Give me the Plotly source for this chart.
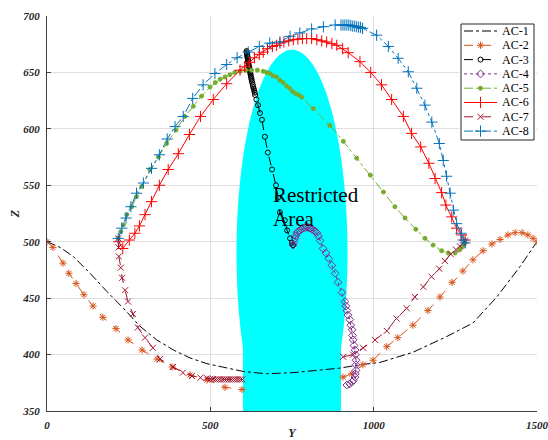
import plotly.graph_objects as go

# ---------------- data ----------------
AC1_Y = [0, 40, 80, 132, 183, 234, 285, 336, 387, 438, 489, 550, 601, 672, 754, 826, 897, 958, 1019, 1120, 1224, 1304, 1377, 1448, 1500]
AC1_Z = [500, 495, 487, 472, 456, 441, 425, 413, 404, 397, 392, 388, 385, 383, 384, 386, 388, 391, 393, 402, 416, 428, 451, 478, 500]

AC2_Y = [0, 18, 49, 67, 89, 113, 141, 171, 211, 248, 291, 337, 383, 438, 490, 545, 597, None,
         906, 933, 967, 998, 1040, 1074, 1120, 1166, 1203, 1240, 1273, 1304, 1335, 1362, 1387, 1411, 1433, 1454, 1472, 1488, 1500]
AC2_Z = [500, 495, 481, 472, 463, 453, 443, 433, 423, 413, 404, 396, 389, 382, 377.5, 371, 369, None,
         380, 383, 391, 395, 407, 415, 426, 439, 451, 464, 474, 484, 492, 498, 502, 506, 508, 508, 506, 503, 500]

AC3_Y = [611, 611.5, 612, 612.5, 613, 613.5, 614, 614.5, 615, 615.5, 616, 617, 618, 619, 620, 621, 622, 623, 624, 625, 626, 627, 628, 630, 631, 633, 634, 636, 637,
         641, 646, 652, 658, 667, 676, 689, 701, 707, 713, 728, 735, 744, 750, 753]
AC3_Z = [669, 668, 667, 666, 665, 664, 663, 662, 661, 660, 659, 657.5, 656, 654.5, 653, 651.5, 650, 648.5, 647, 645.5, 644, 642.5, 641, 639, 637, 635.5, 634, 632, 630,
         626, 621, 614, 608, 593, 579, 564, 550, 539, 526, 519, 510, 503, 499, 497]

AC4_Y = [753, 756, 759, 762, 765, 769, 774, 779, 784, 790, 796, 800, 805, 811, 817, 822, 826, 831, 836, 845, 854, 863, 872, 882, 891, 903, 912, 915, 918, 921, 927, 930, 934, 935, 937, 940, 943, 944, 946, 946, 946, 944, 943, 938, 934, 927, 918]
AC4_Z = [497, 500, 503, 505.5, 508, 509, 510, 511, 512, 512.5, 513, 512.5, 512, 511, 510, 509, 508, 505, 501, 494, 490, 485, 479, 472, 464, 455, 447, 443, 439, 435, 431, 426, 422, 417, 413, 408, 404, 400, 395, 391, 386, 383, 380, 377, 376, 374, 373]

AC5_Y = [218, 226, 234, 244, 259, 274, 290, 315, 341, 366, 395, 422, 448, 473, 499, 515, 530, 545, 560, 575, 591, 608, 626, 644, 662, 672, 682, 692, 703, 713, 723, 733, 743, 752, 762, 771, 780,
         815, 866, 907, 948, 990, 1030, 1065, 1096, 1129, 1157, 1182, 1208, 1228, 1249, 1264, 1274, 1280]
AC5_Z = [503, 509, 515, 524, 531, 540, 549, 564, 575, 587, 599, 611, 620, 629, 637, 641, 644, 646, 648, 650, 651, 652, 652, 652, 651, 650, 649, 647, 646, 643, 641, 638, 636, 633, 631, 630, 628,
         618, 603, 589, 574, 559, 544, 531, 521, 511, 503, 497, 492, 490, 490, 493, 496, 499]

AC6_Y = [220, 232, 252, 269, 283, 300, 320, 344, 371, 402, 436, 470, 509, 550, 591, 605, 620, 635, 650, 662, 675, 690, 703, 713, 725, 740, 754, 768, 782, 795, 810, 826, 841, 856, 872, 887, 905, 922,
         958, 991, 1024, 1055, 1091, 1116, 1144, 1169, 1188, 1208, 1221, 1239, 1254, 1269, 1280]
AC6_Z = [500, 494, 501.5, 507.5, 514, 524, 535.5, 550, 564, 578, 595, 611, 626, 640, 652, 655, 659, 663, 666, 668, 671, 673, 674, 676, 677, 678, 679, 679.5, 680, 680, 680, 679, 678, 677, 675.5, 674, 671, 667.5,
         659.5, 650, 639, 626, 611, 596, 584, 569.5, 556, 543.5, 532.5, 522, 512, 506, 501.5]

AC7_Y = [218, 219, 220, 226, 230, 239, 248, 263, 278, 300, 324, 346, 386, 416, 444, 470, 490, 500, 508, 515, 522, 529, 536, 543, 550, 557, 564, 571, 578, 585, 592, 598, None,
         907, 937, 968, 1004, 1040, 1070, 1101, 1126, 1152, 1177, 1201, 1218, 1236, 1252, 1264, 1274, 1280]
AC7_Z = [503, 495, 487, 477, 468, 457, 447, 436, 424, 415, 406, 396, 389, 384, 381, 379.5, 379, 378.5, 378.3, 378, 378, 378, 378, 378, 378, 378, 378, 378, 378, 378, 378, 378, None,
         398, 400, 406, 413, 421, 432, 441, 451, 460, 469, 476, 483, 489, 493, 496, 499, 501]

AC8_Y = [218, 229, 242, 257, 274, 295, 320, 344, 368, 392, 417, 446, 478, 514, 550, 582, 616, 650, 682, 713, 744, 774, 810, 846, 882, 900, 906, 912, 918, 924, 930, 936, 942, 948, 954, 960, 966,
         1009, 1045, 1075, 1106, 1132, 1157, 1178, 1201, 1213, 1223, 1234, 1244, 1254, 1267, 1274, 1280]
AC8_Z = [503, 512, 521, 531, 543, 552, 565, 577, 591, 602, 611, 627, 639, 649, 657, 663, 668, 673, 676, 677, 682, 685, 688.5, 690.5, 692, 692, 692, 692, 692, 692, 691.5, 691, 691, 690.5, 690, 690, 689,
         683, 673, 662.5, 650.6, 636, 621, 606, 587, 572, 558, 543, 528, 516, 507.5, 501.5, 499]

SERIES_NAMES = ["AC-1", "AC-2", "AC-3", "AC-4", "AC-5", "AC-6", "AC-7", "AC-8"]

# restricted area: ellipse cap + rectangular base
RA_CENTER_Y, RA_CENTER_Z = 750, 490
RA_SEMI_Y, RA_SEMI_Z = 170, 180
RA_BASE_Y0, RA_BASE_Y1 = 600, 900
RA_LABEL = ["Restricted", "Area"]
RA_LABEL_Y = 687
RA_LABEL_Z = [541, 520]

X_TICKS = [0, 500, 1000, 1500]
Z_TICKS = [350, 400, 450, 500, 550, 600, 650, 700]

SERIF = "Liberation Serif"

# ---------------- figure ----------------
W, H = 548, 440
ML, MR, MT, MB = 47, 11, 16, 29

fig = go.Figure()

styles = [
    (AC1_Y, AC1_Z, "#000000", "dashdot", None, 0),
    (AC2_Y, AC2_Z, "#D95319", "dash", "asterisk-open", 6),
    (AC3_Y, AC3_Z, "#000000", "dash", "circle-open", 5),
    (AC4_Y, AC4_Z, "#7E2F8E", "dot", "diamond-open", 6),
    (AC5_Y, AC5_Z, "#77AC30", "dashdot", "circle", 4),
    (AC6_Y, AC6_Z, "#FF0000", "solid", "cross-thin-open", 8),
    (AC7_Y, AC7_Z, "#A2142F", "dash", "x-thin-open", 6),
    (AC8_Y, AC8_Z, "#0072BD", "dashdot", "cross-thin-open", 8),
]

for name, (ys, zs, color, dash, sym, size) in zip(SERIES_NAMES, styles):
    mode = "lines" if sym is None else "lines+markers"
    marker = None
    if sym is not None:
        marker = dict(symbol=sym, size=size, color=color, line=dict(color=color, width=1))
    fig.add_trace(go.Scatter(
        x=ys, y=zs, name=name, mode=mode, showlegend=False,
        line=dict(color=color, width=1, dash=dash),
        marker=marker, connectgaps=False,
    ))

# restricted area shapes (between grid and traces)
fig.add_shape(type="circle", xref="x", yref="y",
              x0=RA_CENTER_Y - RA_SEMI_Y, x1=RA_CENTER_Y + RA_SEMI_Y,
              y0=RA_CENTER_Z - RA_SEMI_Z, y1=RA_CENTER_Z + RA_SEMI_Z,
              fillcolor="#00FFFF", line=dict(width=0), layer="between")
fig.add_shape(type="rect", xref="x", yref="y",
              x0=RA_BASE_Y0, x1=RA_BASE_Y1, y0=Z_TICKS[0] - 20, y1=RA_CENTER_Z,
              fillcolor="#00FFFF", line=dict(width=0), layer="between")

for txt, zz in zip(RA_LABEL, RA_LABEL_Z):
    fig.add_annotation(x=RA_LABEL_Y, y=zz, text=txt, showarrow=False,
                       xanchor="left", yanchor="middle",
                       font=dict(family=SERIF, size=21, color="#000000"))

# ---------------- compact legend (inset axes in page-pixel units) ----------------
LEG_L, LEG_R, LEG_T, LEG_B = 461, 534, 24, 140   # box in page pixels
LEG_ROW0, LEG_ROW_STEP = 31, 14.3
LEG_LINE_X0, LEG_LINE_X1, LEG_TEXT_X = 464, 497, 500
PAD = 2
pw, ph = W - ML - MR, H - MT - MB
fig.update_layout(
    xaxis2=dict(domain=[(LEG_L - PAD - ML) / pw, (LEG_R + PAD - ML) / pw],
                range=[LEG_L - PAD, LEG_R + PAD],
                visible=False, fixedrange=True, anchor="y2"),
    yaxis2=dict(domain=[1 - (LEG_B + PAD - MT) / ph, 1 - (LEG_T - PAD - MT) / ph],
                range=[LEG_B + PAD, LEG_T - PAD],
                visible=False, fixedrange=True, anchor="x2"),
)
fig.add_trace(go.Scatter(x=[LEG_L, LEG_R, LEG_R, LEG_L, LEG_L], y=[LEG_T, LEG_T, LEG_B, LEG_B, LEG_T],
                         xaxis="x2", yaxis="y2", mode="lines", fill="toself",
                         fillcolor="#FFFFFF", line=dict(color="#262626", width=1),
                         showlegend=False, hoverinfo="skip"))
for i, (name, (ys, zs, color, dash, sym, size)) in enumerate(zip(SERIES_NAMES, styles)):
    cy = LEG_ROW0 + i * LEG_ROW_STEP
    fig.add_trace(go.Scatter(x=[LEG_LINE_X0, LEG_LINE_X1], y=[cy, cy], xaxis="x2", yaxis="y2",
                             mode="lines", showlegend=False, hoverinfo="skip",
                             line=dict(color=color, width=1, dash=dash)))
    if sym is not None:
        fig.add_trace(go.Scatter(x=[(LEG_LINE_X0 + LEG_LINE_X1) / 2], y=[cy], xaxis="x2", yaxis="y2",
                                 mode="markers", showlegend=False, hoverinfo="skip",
                                 marker=dict(symbol=sym, size=size, color=color,
                                             line=dict(color=color, width=1))))
    fig.add_annotation(x=LEG_TEXT_X, y=cy, xref="x2", yref="y2", text=name, showarrow=False,
                       xanchor="left", yanchor="middle",
                       font=dict(family=SERIF, size=12, color="#000000"))

tickfont = dict(family=SERIF, size=11, color="#262626", style="italic", weight="bold")
titlefont = dict(family=SERIF, size=12, color="#262626", style="italic", weight="bold")

fig.update_layout(
    xaxis=dict(range=[0, 1500], tickvals=X_TICKS, ticktext=[str(v) for v in X_TICKS],
               showgrid=True, gridcolor="#DFDFDF", gridwidth=1, zeroline=False,
               showline=True, linecolor="#404040", linewidth=1,
               ticks="inside", ticklen=4, tickcolor="#404040",
               tickfont=tickfont, ticklabelstandoff=4, ticklabeloverflow="allow",
               title=dict(text="Y", font=titlefont, standoff=7), automargin=False,
               domain=[0, 1], anchor="y"),
    yaxis=dict(range=[350, 700], tickvals=Z_TICKS, ticktext=[str(v) for v in Z_TICKS],
               showgrid=True, gridcolor="#DFDFDF", gridwidth=1, zeroline=False,
               showline=True, linecolor="#404040", linewidth=1,
               ticks="inside", ticklen=4, tickcolor="#404040",
               tickfont=tickfont, ticklabelstandoff=4, ticklabeloverflow="allow",
               title=dict(text="Z", font=titlefont, standoff=0), automargin=False,
               domain=[0, 1], anchor="x"),
    width=W, height=H,
    margin=dict(l=ML, r=MR, t=MT, b=MB),
    paper_bgcolor="#FFFFFF", plot_bgcolor="#FFFFFF",
    showlegend=False,
)

fig.write_html("out.html")
